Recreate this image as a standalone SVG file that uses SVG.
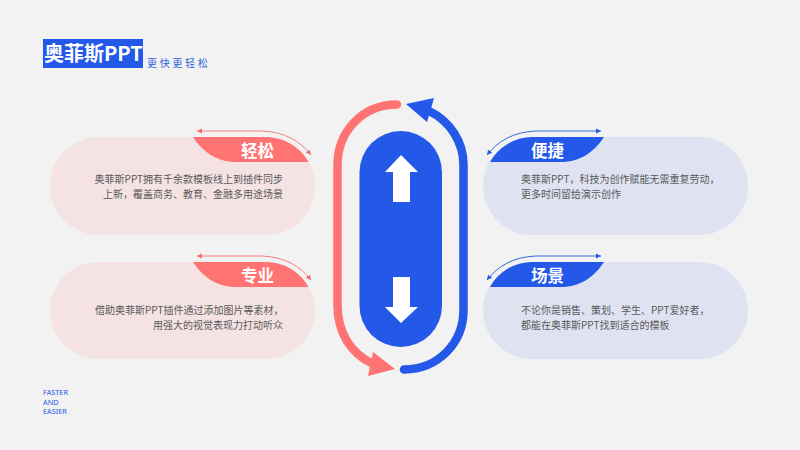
<svg xmlns="http://www.w3.org/2000/svg" width="800" height="450" viewBox="0 0 800 450">
<defs>
<style>
text{font-family:"Noto Sans CJK SC","Noto Sans",sans-serif}
.body{font-size:10px;fill:#595959}
.tab{font-size:16.500px;font-weight:700;fill:#fff}
.pr{fill:#f5e3e4}.pb{fill:#dfe3f1}
.r{fill:#ff7373}.b{fill:#2358e8}
.foot{font-size:7.300px;fill:#2358e8;font-family:"Noto Sans",sans-serif}
.tr{fill:none;stroke:#f58080;stroke-width:1;marker-start:url(#mr);marker-end:url(#mr)}
.tb{fill:none;stroke:#3b66dc;stroke-width:1;marker-start:url(#mb);marker-end:url(#mb)}
</style>
<marker id="mr" markerWidth="6" markerHeight="6" refX="5" refY="3" orient="auto-start-reverse" markerUnits="userSpaceOnUse"><path d="M0 0.5L5 3L0 5.5Z" fill="#f06a6a"/></marker>
<marker id="mb" markerWidth="6" markerHeight="6" refX="5" refY="3" orient="auto-start-reverse" markerUnits="userSpaceOnUse"><path d="M0 0.5L5 3L0 5.5Z" fill="#2358e8"/></marker>
</defs>
<rect width="800" height="450" fill="#f2f2f2"/>
<g id="title">
<rect x="43" y="39" width="100" height="29" fill="#2358e8"/>
<text x="44" y="61" font-size="20" font-weight="700" fill="#fff">奥菲斯PPT</text>
<text x="147" y="67" font-size="10" letter-spacing="2.7" fill="#2f62dc">更快更轻松</text>
</g>
<g id="footer">
<text class="foot" x="43" y="394.500">FASTER</text>
<text class="foot" x="43" y="404.500">AND</text>
<text class="foot" x="43" y="413.500">EASIER</text>
</g>
<g id="node-qingsong">
<rect class="pr" x="50" y="137" width="265" height="98" rx="49"/>
<path class="r" d="M193 137C203 152 217 162 236 162H308.500A49 49 0 0 0 266 137Z"/>
<text class="tab" x="241" y="157">轻松</text>
<text class="body" x="283" y="183" text-anchor="end">奥菲斯PPT拥有千余款模板线上到插件同步</text>
<text class="body" x="283" y="198" text-anchor="end">上新，覆盖商务、教育、金融多用途场景</text>
</g>
<g id="node-zhuanye">
<rect class="pr" x="50" y="262" width="265" height="97" rx="48.500"/>
<path class="r" d="M193 262C203 277 217 287 236 287H308.500A48.500 48.500 0 0 0 266 262Z"/>
<text class="tab" x="241" y="282">专业</text>
<text class="body" x="95" y="314">借助奥菲斯PPT插件通过添加图片等素材，</text>
<text class="body" x="283" y="329" text-anchor="end">用强大的视觉表现力打动听众</text>
</g>
<g id="node-bianjie">
<rect class="pb" x="483" y="137" width="265" height="98" rx="49"/>
<path class="b" d="M604 137C594 152 580 162 561 162H490A49 49 0 0 1 532 137Z"/>
<text class="tab" x="531" y="157">便捷</text>
<text class="body" x="521" y="183">奥菲斯PPT，科技为创作赋能无需重复劳动，</text>
<text class="body" x="521" y="198">更多时间留给演示创作</text>
</g>
<g id="node-changjing">
<rect class="pb" x="483" y="262" width="265" height="97" rx="48.500"/>
<path class="b" d="M604 262C594 277 580 287 561 287H490A48.500 48.500 0 0 1 532 262Z"/>
<text class="tab" x="531" y="282">场景</text>
<text class="body" x="521" y="314">不论你是销售、策划、学生、PPT爱好者，</text>
<text class="body" x="521" y="329">都能在奥菲斯PPT找到适合的模板</text>
</g>
<g id="node-center">
<rect class="b" x="359.500" y="131" width="82.500" height="216" rx="41.250"/>
<path fill="#fff" d="M401 155L418 172H410V202H393V172H385Z"/>
<path fill="#fff" d="M401 323L418 307H410V277H393V307H385Z"/>
</g>
<g id="connectors">
<path class="tr" d="M197 131H262C285 132 300 141 311 155"/>
<path class="tr" d="M197 256H262C285 257 300 266 311 280"/>
<path class="tb" d="M601 131H536C513 132 498 141 487 155"/>
<path class="tb" d="M601 256H536C513 257 498 266 487 280"/>
<path d="M397 104.500C362 104.500 337.500 132 337.500 165V305C337.500 332 350 353 373 364" fill="none" stroke="#ff7373" stroke-width="8.500" stroke-linecap="round"/>
<path class="r" d="M395 369L368 376L373 352Z"/>
<path d="M404 369.500C438 369.500 463.500 343 463.500 310V165C463.500 142 450 121 429 111" fill="none" stroke="#2358e8" stroke-width="8.500" stroke-linecap="round"/>
<path class="b" d="M406 104L434 98L427 122Z"/>
</g>
</svg>
